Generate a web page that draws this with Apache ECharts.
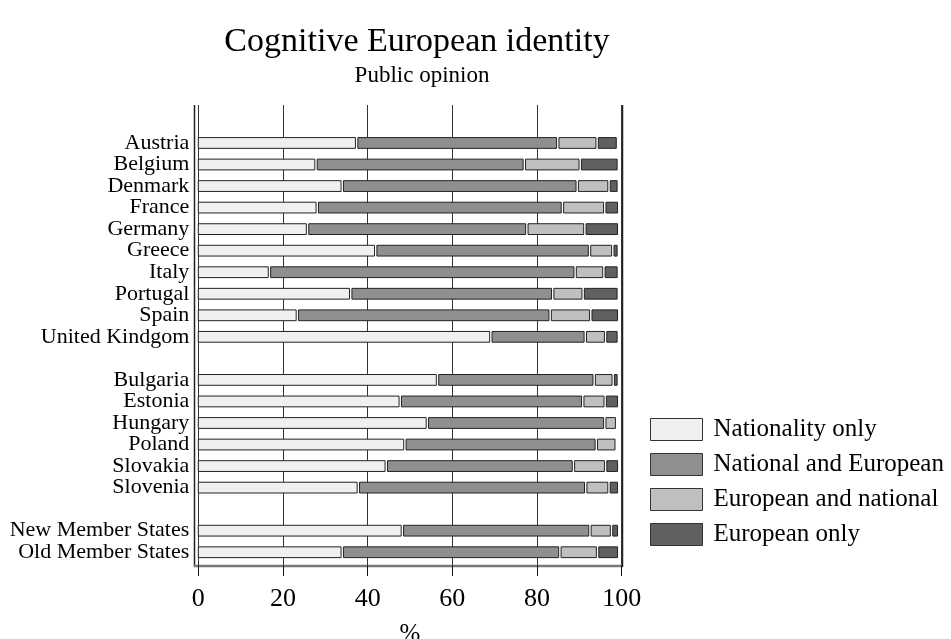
<!DOCTYPE html>
<html>
<head>
<meta charset="utf-8">
<script src="https://cdn.jsdelivr.net/npm/echarts@6/dist/echarts.min.js"></script>
<style>
  html, body { margin: 0; padding: 0; background: #fff; }
  #chart { width: 951px; height: 639px; }
</style>
</head>
<body>
<div id="chart"></div>
<script>
  // rows top to bottom, '' / ' ' are the blank rows between groups
  const categories = [
    'Austria', 'Belgium', 'Denmark', 'France', 'Germany', 'Greece', 'Italy',
    'Portugal', 'Spain', 'United Kindgom', '',
    'Bulgaria', 'Estonia', 'Hungary', 'Poland', 'Slovakia', 'Slovenia', ' ',
    'New Member States', 'Old Member States'
  ];
  const seriesNames = ['Nationality only', 'National and European', 'European and national', 'European only'];
  const nationalityOnly     = [37.4, 27.8, 34.0, 28.1, 25.8, 41.9, 16.8, 36.0, 23.4, 69.1, null, 56.5, 47.7, 54.1, 48.8, 44.4, 37.8, null, 48.2, 34.0];
  const nationalAndEuropean = [47.5, 49.2, 55.5, 57.9, 51.8, 50.5, 72.2, 47.7, 59.7, 22.3, null, 37.0, 43.1, 41.9, 45.2, 44.2, 53.7, null, 44.3, 51.4];
  const europeanAndNational = [9.3, 13.2, 7.5, 10.0, 13.7, 5.5, 6.8, 7.2, 9.6, 4.8, null, 4.5, 5.3, 2.8, 4.7, 7.6, 5.5, null, 5.1, 8.9];
  const europeanOnly        = [4.8, 9.0, 2.2, 3.3, 8.0, 1.3, 3.4, 8.3, 6.6, 3.0, null, 1.2, 3.2, 0, 0, 3.1, 2.3, null, 1.7, 5.0];
  const xTicks = [0, 20, 40, 60, 80, 100];

  const colors = ['#f0f0f0', '#8f8f8f', '#bfbfbf', '#606060'];
  const serif = 'Liberation Serif, Times New Roman, serif';

  // turn the four arrays into [row, start, end] segments
  const allValues = [nationalityOnly, nationalAndEuropean, europeanAndNational, europeanOnly];
  const running = categories.map(() => 0);
  const segments = allValues.map(values => {
    const out = [];
    values.forEach((v, i) => {
      if (v == null || v <= 0) return;
      out.push([i, running[i], running[i] + v]);
      running[i] += v;
    });
    return out;
  });

  function renderSegment(params, api) {
    const row = api.value(0);
    const start = api.value(1);
    const end = api.value(2);
    const p0 = api.coord([start, row]);
    const p1 = api.coord([end, row]);
    const h = api.size([0, 1])[1] * 0.5;
    const inset = start > 0 ? 1.2 : 0;
    return {
      type: 'rect',
      shape: {
        x: p0[0] + inset,
        y: p0[1] - h / 2,
        width: p1[0] - p0[0] - inset - 1.2,
        height: h
      },
      style: api.style({ stroke: '#222', lineWidth: 1 })
    };
  }

  const chart = echarts.init(document.getElementById('chart'));
  chart.setOption({
    animation: false,
    backgroundColor: '#fff',
    title: [
      {
        text: 'Cognitive European identity',
        left: 412, top: 20, textAlign: 'center',
        textStyle: { fontFamily: serif, fontSize: 34, fontWeight: 'normal', color: '#000' }
      },
      {
        text: 'Public opinion',
        left: 417, top: 59, textAlign: 'center',
        textStyle: { fontFamily: serif, fontSize: 23, fontWeight: 'normal', color: '#000' }
      }
    ],
    legend: {
      orient: 'vertical',
      left: 645, top: 412,
      itemWidth: 52, itemHeight: 22, itemGap: 10,
      icon: 'rect',
      data: seriesNames,
      itemStyle: { borderColor: '#333', borderWidth: 1 },
      textStyle: { fontFamily: serif, fontSize: 25, color: '#000', padding: [0, 0, 0, 6] }
    },
    grid: [
      // frame grid: gridlines, ticks, labels
      { left: 198.3, right: 329.3, top: 105, bottom: 73, outerBoundsMode: 'none' },
      // bar grid
      { left: 198.3, right: 329.3, top: 132.2, bottom: 76, outerBoundsMode: 'none' }
    ],
    xAxis: [
      {
        gridIndex: 0, type: 'value', min: xTicks[0], max: xTicks[xTicks.length - 1], interval: 20,
        name: '%', nameLocation: 'middle', nameGap: 56, nameMoveOverlap: false,
        nameTextStyle: { fontFamily: serif, fontSize: 25, color: '#000', verticalAlign: 'top' },
        axisLine: { show: false },
        axisTick: { show: true, length: 10, lineStyle: { color: '#111' } },
        axisLabel: { margin: 20, fontFamily: serif, fontSize: 26, color: '#000' },
        splitLine: { show: true, lineStyle: { color: '#333', width: 1 } }
      },
      { gridIndex: 1, type: 'value', min: 0, max: 100, show: false }
    ],
    yAxis: [
      { gridIndex: 0, type: 'value', show: false },
      {
        gridIndex: 1, type: 'category', inverse: true, data: categories,
        axisLine: { show: false },
        axisTick: { show: false },
        axisLabel: { margin: 9, fontFamily: serif, fontSize: 22, color: '#000', interval: 0 }
      }
    ],
    // box round the plot: left side and grey bottom
    graphic: [
      { type: 'line', shape: { x1: 194.5, y1: 105, x2: 194.5, y2: 567 }, style: { stroke: '#222', lineWidth: 1.5 } },
      { type: 'line', shape: { x1: 194, y1: 566, x2: 623, y2: 566 }, style: { stroke: '#777', lineWidth: 2.5 } },
      { type: 'line', shape: { x1: 622.5, y1: 105, x2: 622.5, y2: 567 }, style: { stroke: '#222', lineWidth: 1.5 } }
    ],
    series: seriesNames.map((name, i) => ({
      name: name,
      type: 'custom',
      xAxisIndex: 1,
      yAxisIndex: 1,
      renderItem: renderSegment,
      encode: { x: [1, 2], y: 0 },
      itemStyle: { color: colors[i] },
      data: segments[i]
    }))
  });
</script>
</body>
</html>
